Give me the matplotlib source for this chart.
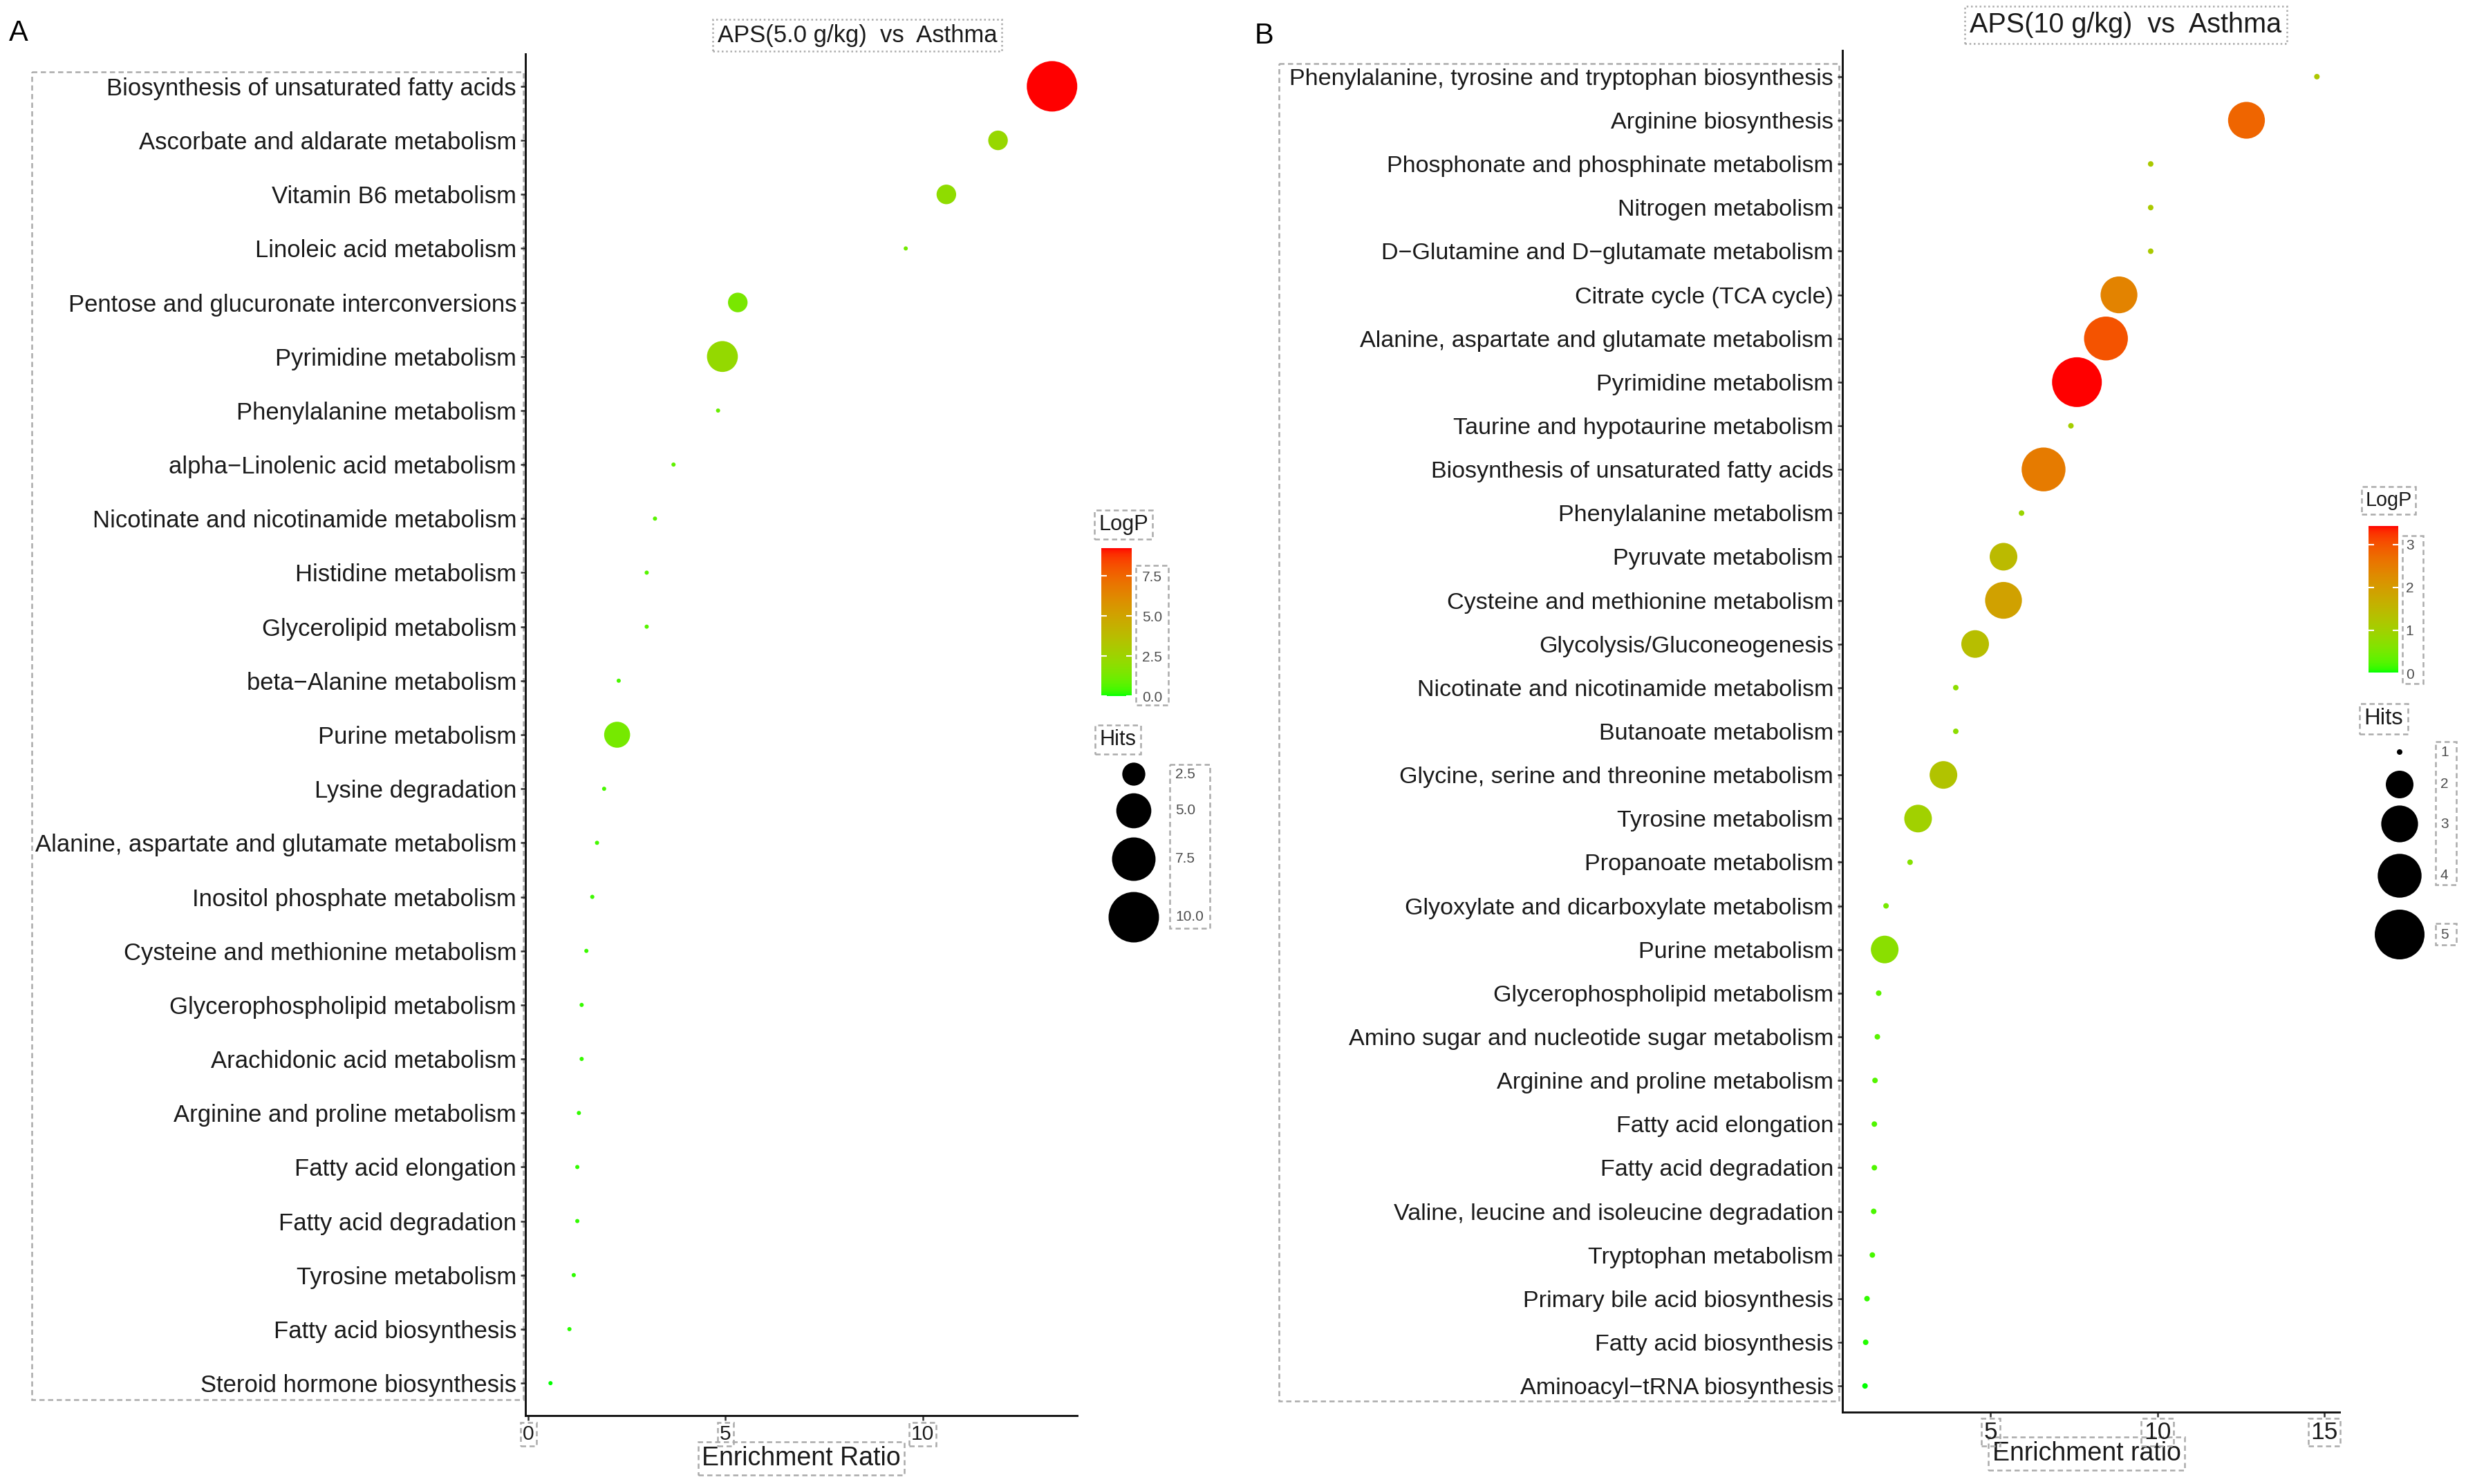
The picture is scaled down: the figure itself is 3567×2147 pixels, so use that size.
import numpy as np
import matplotlib
matplotlib.use("Agg")
import matplotlib.pyplot as plt
from matplotlib.colors import ListedColormap, Normalize
from matplotlib.cm import ScalarMappable
from matplotlib.patches import Rectangle

plt.rcParams['font.family'] = ['Liberation Sans', 'DejaVu Sans']

# ---------------- panel A : APS(5.0 g/kg) vs Asthma ----------------
a_path = ["Biosynthesis of unsaturated fatty acids", "Ascorbate and aldarate metabolism",
          "Vitamin B6 metabolism", "Linoleic acid metabolism",
          "Pentose and glucuronate interconversions", "Pyrimidine metabolism",
          "Phenylalanine metabolism", "alpha\u2212Linolenic acid metabolism",
          "Nicotinate and nicotinamide metabolism", "Histidine metabolism",
          "Glycerolipid metabolism", "beta\u2212Alanine metabolism", "Purine metabolism",
          "Lysine degradation", "Alanine, aspartate and glutamate metabolism",
          "Inositol phosphate metabolism", "Cysteine and methionine metabolism",
          "Glycerophospholipid metabolism", "Arachidonic acid metabolism",
          "Arginine and proline metabolism", "Fatty acid elongation",
          "Fatty acid degradation", "Tyrosine metabolism", "Fatty acid biosynthesis",
          "Steroid hormone biosynthesis"]
a_ratio = [13.28, 11.91, 10.6, 9.57, 5.31, 4.92, 4.81, 3.68, 3.21, 3.0, 3.0, 2.29, 2.25,
           1.92, 1.74, 1.62, 1.47, 1.35, 1.35, 1.28, 1.24, 1.24, 1.15, 1.04, 0.56]
a_hits = [10, 2, 2, 1, 2, 4, 1, 1, 1, 1, 1, 1, 3, 1, 1, 1, 1, 1, 1, 1, 1, 1, 1, 1, 1]
a_logp = [9.24, 2.3, 2.0, 1.2, 1.4, 2.2, 1.0, 0.8, 0.7, 0.65, 0.65, 0.5, 1.3, 0.45, 0.4,
          0.35, 0.3, 0.28, 0.28, 0.25, 0.24, 0.24, 0.2, 0.15, 0.0]
a_hit_breaks = [2.5, 5.0, 7.5, 10.0]
a_logp_breaks = [0.0, 2.5, 5.0, 7.5]

# ---------------- panel B : APS(10 g/kg) vs Asthma ----------------
b_path = ["Phenylalanine, tyrosine and tryptophan biosynthesis", "Arginine biosynthesis",
          "Phosphonate and phosphinate metabolism", "Nitrogen metabolism",
          "D\u2212Glutamine and D\u2212glutamate metabolism", "Citrate cycle (TCA cycle)",
          "Alanine, aspartate and glutamate metabolism", "Pyrimidine metabolism",
          "Taurine and hypotaurine metabolism", "Biosynthesis of unsaturated fatty acids",
          "Phenylalanine metabolism", "Pyruvate metabolism",
          "Cysteine and methionine metabolism", "Glycolysis/Gluconeogenesis",
          "Nicotinate and nicotinamide metabolism", "Butanoate metabolism",
          "Glycine, serine and threonine metabolism", "Tyrosine metabolism",
          "Propanoate metabolism", "Glyoxylate and dicarboxylate metabolism",
          "Purine metabolism", "Glycerophospholipid metabolism",
          "Amino sugar and nucleotide sugar metabolism", "Arginine and proline metabolism",
          "Fatty acid elongation", "Fatty acid degradation",
          "Valine, leucine and isoleucine degradation", "Tryptophan metabolism",
          "Primary bile acid biosynthesis", "Fatty acid biosynthesis",
          "Aminoacyl\u2212tRNA biosynthesis"]
b_ratio = [14.78, 12.67, 9.80, 9.80, 9.80, 8.85, 8.46, 7.59, 7.41, 6.59, 5.93, 5.39, 5.39,
           4.54, 3.96, 3.96, 3.59, 2.83, 2.59, 1.87, 1.83, 1.65, 1.61, 1.54, 1.52, 1.52,
           1.50, 1.46, 1.30, 1.26, 1.24]
b_hits = [1, 3, 1, 1, 1, 3, 4, 5, 1, 4, 1, 2, 3, 2, 1, 1, 2, 2, 1, 1, 2,
          1, 1, 1, 1, 1, 1, 1, 1, 1, 1]
b_logp = [1.2, 2.8, 1.15, 1.15, 1.15, 2.4, 3.0, 3.43, 1.05, 2.5, 0.9, 1.45, 1.9, 1.37,
          0.75, 0.75, 1.27, 1.0, 0.65, 0.5, 0.7, 0.3, 0.28, 0.25, 0.22, 0.22, 0.2, 0.18,
          0.1, 0.06, 0.02]
b_hit_breaks = [1, 2, 3, 4, 5]
b_logp_breaks = [0, 1, 2, 3]

W, H, DPI = 3567, 2147, 300
PX = DPI / 72.0  # pixels per point
BOX = '#ababab'


# green -> red gradient interpolated in Lab (like ggplot's scale_colour_gradient)
def srgb2lab(rgb):
    c = np.atleast_2d(np.asarray(rgb, float))
    lin = np.where(c <= 0.04045, c / 12.92, ((c + 0.055) / 1.055) ** 2.4)
    M = np.array([[0.4124564, 0.3575761, 0.1804375],
                  [0.2126729, 0.7151522, 0.0721750],
                  [0.0193339, 0.1191920, 0.9503041]])
    xyz = lin @ M.T / np.array([0.95047, 1.0, 1.08883])
    d = 6 / 29
    f = np.where(xyz > d ** 3, np.cbrt(xyz), xyz / (3 * d * d) + 4 / 29)
    return np.stack([116 * f[:, 1] - 16, 500 * (f[:, 0] - f[:, 1]),
                     200 * (f[:, 1] - f[:, 2])], axis=1)


def lab2srgb(lab):
    L, a, b = lab[:, 0], lab[:, 1], lab[:, 2]
    fy = (L + 16) / 116
    f = np.stack([fy + a / 500, fy, fy - b / 200], axis=1)
    d = 6 / 29
    xyz = np.where(f > d, f ** 3, 3 * d * d * (f - 4 / 29)) * np.array([0.95047, 1.0, 1.08883])
    Minv = np.array([[3.2404542, -1.5371385, -0.4985314],
                     [-0.9692660, 1.8760108, 0.0415560],
                     [0.0556434, -0.2040259, 1.0572252]])
    lin = np.clip(xyz @ Minv.T, 0, 1)
    return np.where(lin <= 0.0031308, 12.92 * lin, 1.055 * lin ** (1 / 2.4) - 0.055)


t = np.linspace(0, 1, 256)[:, None]
lab_g, lab_r = srgb2lab([0, 1, 0]), srgb2lab([1, 0, 0])
cmap = ListedColormap(np.clip(lab2srgb((1 - t) * lab_g + t * lab_r), 0, 1))


def dot_size(h, hmin, hmax, d0, k):
    # ggplot area scale: diameter grows with sqrt of rescaled value (pixels -> pt^2)
    s = np.sqrt((np.asarray(h, float) - hmin) / (hmax - hmin))
    return ((d0 + k * s) / PX) ** 2


fig = plt.figure(figsize=(W / DPI, H / DPI), dpi=DPI)
ov = fig.add_axes([0, 0, 1, 1], zorder=-1)
ov.set_xlim(0, W)
ov.set_ylim(H, 0)
ov.axis('off')

dash = dict(fc='none', ec=BOX, lw=0.6, ls=(0, (3, 2)))


def tbox(pad=0.15, ls=(0, (3, 2))):
    return dict(boxstyle='square,pad=%s' % pad, fc='none', ec=BOX, lw=0.6, ls=ls)


def panel(rect, paths, ratio, hits, logp, d0, k, xticks, xfs, yfs):
    l, tp, r, b = rect
    ax = fig.add_axes([l / W, 1 - b / H, (r - l) / W, (b - tp) / H])
    ax.set_facecolor('none')
    n = len(paths)
    y = np.arange(n)[::-1]
    norm = Normalize(min(logp), max(logp))
    ax.scatter(ratio, y, s=dot_size(hits, min(hits), max(hits), d0, k),
               c=logp, cmap=cmap, norm=norm, linewidths=0, clip_on=False, zorder=3)
    span = max(ratio) - min(ratio)
    ax.set_xlim(min(ratio) - 0.05 * span, max(ratio) + 0.05 * span)
    ax.set_ylim(-0.6, n - 0.4)
    ax.set_yticks(y)
    ax.set_yticklabels(paths, fontsize=yfs, color='#1a1a1a')
    ax.set_xticks(xticks)
    ax.set_xticklabels([str(v) for v in xticks], fontsize=xfs, color='#1a1a1a')
    for lbl in ax.get_xticklabels():
        lbl.set_bbox(tbox(0.1))
    for sp in ('top', 'right'):
        ax.spines[sp].set_visible(False)
    for sp in ('left', 'bottom'):
        ax.spines[sp].set_linewidth(0.7)
        ax.spines[sp].set_color('#111111')
    ax.tick_params(axis='both', length=1.7, width=0.6, color='#333333', pad=1.4)
    return ax, norm


def legend(norm, cb_rect, logp_breaks, fmt, cb_fs, title_pos, title_fs, cb_box,
           hits, hit_breaks, hit_labels, d0, k, dot_x, dot_y, lab_x, lab_fs, hits_pos,
           hits_fs, hit_boxes, cb_pad):
    ov.text(*title_pos, 'LogP', fontsize=title_fs, ha='center', va='center',
            color='#1a1a1a', bbox=tbox(0.2))
    x0, y0, x1, y1 = cb_rect
    cax = fig.add_axes([x0 / W, 1 - y1 / H, (x1 - x0) / W, (y1 - y0) / H])
    cb = fig.colorbar(ScalarMappable(norm=norm, cmap=cmap), cax=cax)
    cb.outline.set_visible(False)
    cb.set_ticks(logp_breaks)
    cb.set_ticklabels([fmt % v for v in logp_breaks])
    cax.tick_params(which='both', left=True, right=True, direction='in', color='white',
                    length=2.0, width=0.5, labelsize=cb_fs, labelcolor='#4d4d4d', pad=cb_pad)
    ov.add_patch(Rectangle((cb_box[0], cb_box[1]), cb_box[2] - cb_box[0],
                           cb_box[3] - cb_box[1], **dash))
    ov.text(*hits_pos, 'Hits', fontsize=hits_fs, ha='center', va='center',
            color='#1a1a1a', bbox=tbox(0.2))
    ov.scatter([dot_x] * len(hit_breaks), dot_y,
               s=dot_size(hit_breaks, min(hits), max(hits), d0, k), color='black',
               linewidths=0)
    for yy, lab in zip(dot_y, hit_labels):
        ov.text(lab_x, yy, lab, fontsize=lab_fs, ha='left', va='center', color='#4d4d4d')
    for bx in hit_boxes:
        ov.add_patch(Rectangle((bx[0], bx[1]), bx[2] - bx[0], bx[3] - bx[1], **dash))


# ---- panel A ----
axA, normA = panel((760, 78, 1558, 2048), a_path, a_ratio, a_hits, a_logp,
                   6, 67, [0, 5, 10], 7.2, 8.3)
ov.add_patch(Rectangle((46, 104), 757 - 46, 2025 - 104, **dash))
ov.text(27, 48, 'A', fontsize=10, ha='center', va='center')
ov.text(1240, 51, 'APS(5.0 g/kg)  vs  Asthma', fontsize=8.3, ha='center', va='center',
        color='#1a1a1a', bbox=tbox(0.2, (0, (1, 1.5))))
ov.text(1159, 2110, 'Enrichment Ratio', fontsize=9, ha='center', va='center',
        color='#1a1a1a', bbox=tbox(0.15))
legend(normA, (1593, 793, 1637, 1007), a_logp_breaks, '%.1f', 5, (1625, 759), 7.4,
       (1643, 818, 1690, 1020), a_hits, a_hit_breaks, ['%.1f' % v for v in a_hit_breaks],
       6, 67, 1640, [1120, 1173, 1243, 1327], 1700, 5, (1617, 1070), 7.4,
       [(1692, 1106, 1750, 1343)], 3.6)

# ---- panel B ----
axB, normB = panel((2665, 73, 3384, 2043), b_path, b_ratio, b_hits, b_logp,
                   8, 64, [5, 10, 15], 8.5, 8.2)
ov.add_patch(Rectangle((1850, 92), 2660 - 1850, 2027 - 92, **dash))
ov.text(1828, 52, 'B', fontsize=10, ha='center', va='center')
ov.text(3075, 36, 'APS(10 g/kg)  vs  Asthma', fontsize=9.5, ha='center', va='center',
        color='#1a1a1a', bbox=tbox(0.2, (0, (1, 1.5))))
ov.text(3018, 2103, 'Enrichment ratio', fontsize=9, ha='center', va='center',
        color='#1a1a1a', bbox=tbox(0.15))
legend(normB, (3426, 761, 3469, 974), b_logp_breaks, '%d', 5, (3455, 724), 6.9,
       (3475, 775, 3505, 989), b_hits, b_hit_breaks, [str(v) for v in b_hit_breaks],
       8, 64, 3471, [1088, 1135, 1192, 1267, 1352], 3530, 5, (3448, 1040), 7.9,
       [(3523, 1073, 3553, 1280), (3523, 1336, 3553, 1367)], 2.6)

fig.savefig('out.png', dpi=DPI)
